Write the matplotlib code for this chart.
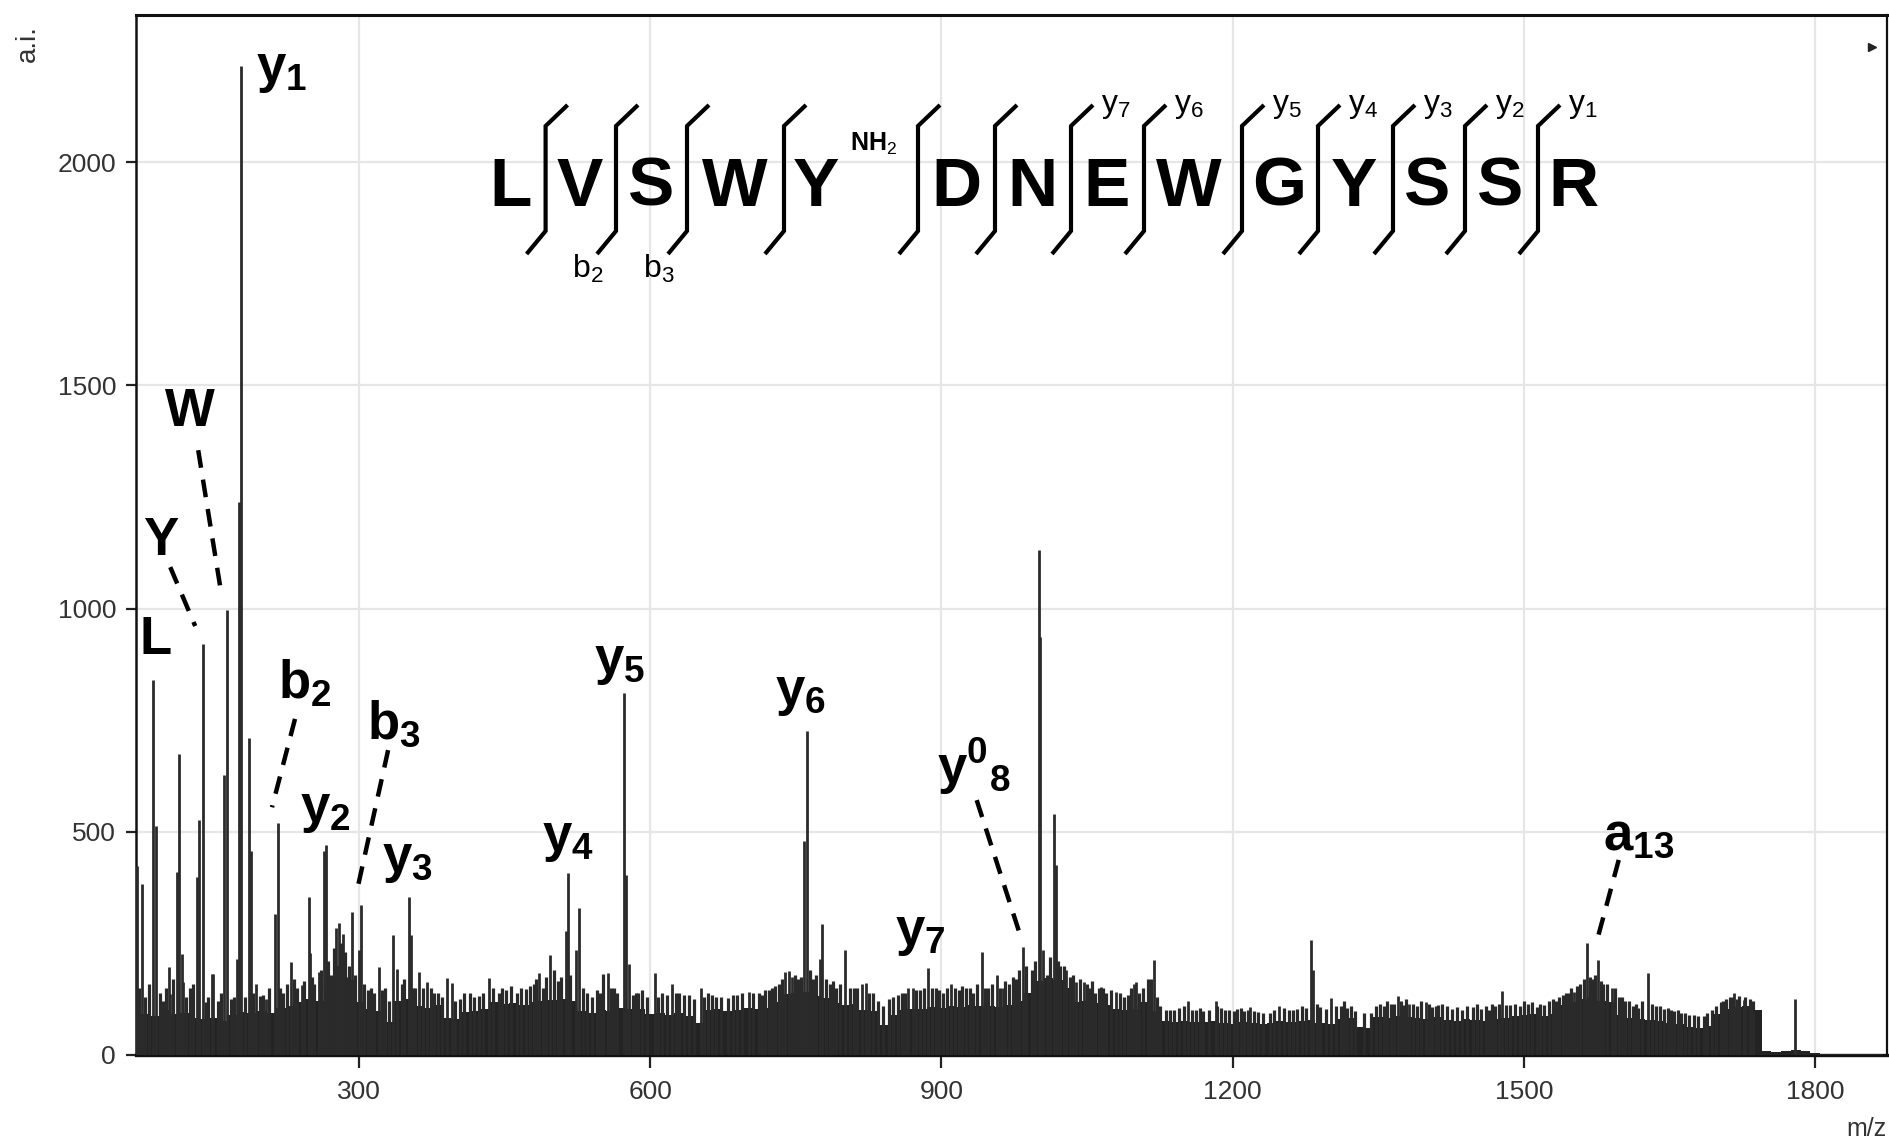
import matplotlib
matplotlib.use("Agg")
import matplotlib.pyplot as plt
from matplotlib import font_manager as fm

# ------------------------------------------------------------------ data
# noise floor of the spectrum, read every 10 m/z (upper edge of the solid band)
noise_mz = list(range(70, 1880, 10))
noise_int = [
    86, 92, 88, 101, 92, 95, 84, 80, 82, 76,
    90, 96, 93, 99, 95, 106, 110, 118, 125, 121,
    150, 200, 168, 118, 104, 98, 75, 122, 126, 110,
    106, 112, 84, 80, 96, 99, 104, 118, 114, 117,
    112, 118, 120, 124, 126, 120, 98, 95, 100, 98,
    106, 102, 104, 92, 95, 90, 94, 88, 72, 100,
    102, 98, 101, 105, 102, 106, 118, 136, 140, 142,
    132, 128, 116, 112, 114, 101, 98, 68, 90, 100,
    102, 104, 108, 106, 110, 107, 112, 109, 110, 108,
    112, 122, 140, 165, 172, 168, 150, 118, 122, 116,
    112, 104, 100, 102, 118, 98, 76, 74, 77, 75,
    73, 76, 72, 70, 74, 72, 70, 72, 76, 74,
    76, 78, 72, 70, 80, 82, 62, 60, 86, 84,
    88, 86, 84, 80, 86, 78, 76, 80, 78, 76,
    80, 82, 88, 90, 92, 88, 92, 112, 118, 126,
    130, 122, 118, 90, 84, 80, 78, 76, 72, 70,
    62, 60, 66, 92, 104, 108, 110, 100, 8, 7,
    8, 12, 9, 4, 3, 2, 2, 2, 2, 2,
    2,
]

# resolved peaks (m/z, intensity)
peak_mz = [72.0, 76.5, 88.5, 91.3, 104, 106, 112.6, 115.3, 117.7, 119,
           133.2, 134.9, 139.3, 148.6, 150, 161.3, 164.0, 174.4, 177.1, 178.8,
           187.4, 188.8, 194.3, 204, 213.8, 216.6, 230, 241, 248.2, 249.9,
           258.5, 264.3, 266.4, 276.7, 280, 284, 292.8, 300.7, 302.4, 320.3,
           335.7, 339, 351.5, 353.6, 362.5, 370, 390.6, 395.8, 433.9, 485.8,
           497.1, 512.9, 515.3, 523.9, 526.3, 556.8, 573.3, 575.7, 578.4, 604.9,
           623, 652, 702, 739, 743.3, 746, 758.7, 761.5, 775.2, 776.9,
           801, 818, 822.2, 866, 870.3, 886.3, 910, 941.6, 957.4, 963,
           983.8, 1000.3, 1002, 1005, 1015.6, 1018.4, 1028.3, 1039, 1047, 1064,
           1080, 1098, 1101, 1119.5, 1154.5, 1182.7, 1218, 1248, 1280.9, 1283,
           1301.5, 1370, 1382, 1399, 1477.6, 1551.3, 1565, 1575.9, 1591, 1628.3,
           1716.4, 1726.5, 1779.6]
peak_int = [423, 384, 840, 514, 197, 137, 411, 674, 226, 164,
            398, 527, 921, 182, 181, 628, 996, 216, 1238, 2215,
            710, 457, 160, 126, 315, 520, 209, 156, 354, 228,
            186, 458, 470, 285, 295, 270, 320, 236, 337, 197,
            268, 193, 354, 268, 187, 164, 172, 161, 173, 184,
            225, 277, 408, 236, 329, 184, 812, 404, 203, 184,
            160, 149, 142, 186, 189, 175, 480, 726, 214, 294,
            236, 160, 161, 149, 150, 195, 160, 230, 179, 149,
            242, 1131, 936, 236, 540, 425, 190, 164, 164, 153,
            142, 160, 163, 212, 120, 122, 108, 110, 258, 191,
            128, 132, 114, 118, 143, 142, 252, 212, 149, 183,
            138, 123, 126]

# small noise spikes above the floor (m/z, intensity)
spike_mz = [98, 122, 143, 168, 183, 198, 222, 236, 254, 271, 288, 309, 327, 344, 358,
            377, 404, 415, 424, 444, 452, 463, 472, 480, 490, 505, 535, 545, 552, 563,
            585, 592, 612, 630, 640, 660, 668, 680, 690, 712, 718, 726, 733, 752, 768,
            785, 792, 810, 830, 846, 855, 878, 895, 902, 918, 925, 933, 948, 970, 977,
            993, 1009, 1022, 1033, 1052, 1058, 1070, 1088, 1108, 1113, 1125, 1135, 1145,
            1162, 1170, 1188, 1196, 1205, 1212, 1226, 1238, 1258, 1266, 1290, 1296, 1312,
            1318, 1326, 1343, 1356, 1363, 1376, 1390, 1405, 1412, 1426, 1436, 1448, 1456,
            1464, 1470, 1486, 1496, 1504, 1513, 1521, 1533, 1540, 1546, 1558, 1570, 1582,
            1598, 1604, 1612, 1618, 1636, 1644, 1655, 1662, 1675, 1685, 1694, 1703, 1708,
            1712, 1722, 1733,
            74, 80, 84, 95, 101, 109, 126, 129, 145, 155, 158, 171, 191, 201, 208, 219,
            226, 233, 244, 252, 261, 268, 274, 282, 286, 290, 296, 305, 313, 316, 324,
            331, 347, 356, 366, 374, 382, 386, 399, 408, 419, 428, 438, 448, 457, 467,
            476, 483, 493, 501, 508, 518, 531, 540, 548, 560, 566, 582, 588, 597, 608,
            617, 627, 635, 645, 656, 664, 673, 685, 695, 706, 715, 722, 729, 736, 749,
            755, 765, 771, 781, 788, 796, 806, 813, 826, 835, 840, 850, 859, 863, 874,
            882, 890, 898, 906, 914, 921, 929, 937, 945, 952, 960, 966, 974, 980, 987,
            996, 1012, 1020, 1026, 1036, 1043, 1050, 1055, 1062, 1067, 1075, 1084, 1092,
            1095, 1104, 1116, 1122, 1131, 1140, 1150, 1158, 1166, 1176, 1184, 1192, 1201,
            1209, 1216, 1222, 1231, 1243, 1253, 1262, 1271, 1276, 1287, 1306, 1315, 1322,
            1335, 1348, 1352, 1359, 1366, 1373, 1379, 1386, 1394, 1402, 1409, 1416, 1421,
            1431, 1441, 1452, 1461, 1467, 1474, 1482, 1491, 1500, 1508, 1517, 1526, 1530,
            1536, 1543, 1549, 1555, 1562, 1568, 1573, 1579, 1586, 1594, 1601, 1608, 1615,
            1622, 1632, 1640, 1648, 1652, 1659, 1666, 1670, 1679, 1689, 1698, 1705, 1715,
            1719, 1728, 1736]
spike_int = [120, 130, 118, 125, 130, 132, 140, 150, 160, 180, 175, 145, 150, 160, 150,
             140, 125, 138, 132, 140, 145, 140, 148, 160, 150, 165, 140, 145, 181, 150,
             140, 145, 138, 140, 135, 138, 130, 128, 135, 140, 145, 150, 160, 170, 170,
             160, 150, 150, 140, 125, 135, 145, 150, 140, 145, 150, 140, 150, 160, 170,
             190, 180, 200, 175, 150, 140, 138, 130, 150, 170, 110, 100, 105,
             100, 98, 105, 100, 102, 98, 96, 95, 100, 104, 108, 104, 110,
             105, 98, 95, 110, 115, 112, 110, 108, 112, 104, 100, 108, 104,
             100, 110, 112, 110, 115, 108, 112, 120, 135, 140, 160, 170, 160,
             130, 120, 110, 105, 110, 104, 98, 95, 90, 88, 100, 118, 125,
             130, 132, 125,
             150, 130, 160, 140, 150, 170, 150, 160, 130, 120, 140, 130, 140, 135, 150, 150,
             160, 170, 165, 175, 190, 210, 240, 250, 230, 200, 180, 160, 150, 140, 145,
             120, 170, 150, 150, 150, 140, 130, 120, 140, 130, 140, 150, 150, 155, 150,
             155, 170, 175, 190, 175, 180, 150, 130, 140, 150, 140, 135, 140, 130, 130,
             135, 140, 135, 125, 130, 135, 130, 135, 140, 140, 135, 145, 155, 170, 180,
             175, 190, 180, 170, 165, 160, 150, 150, 140, 120, 110, 130, 140, 140, 145,
             150, 150, 145, 150, 150, 155, 150, 160, 150, 160, 150, 165, 175, 190, 200,
             210, 220, 210, 200, 180, 170, 160, 165, 150, 150, 145, 140, 135,
             150, 140, 170, 130, 100, 100, 110, 100, 105, 100, 110, 100, 98,
             105, 100, 98, 95, 100, 105, 100, 110, 105, 115, 110, 120, 110,
             95, 110, 115, 120, 115, 120, 125, 115, 120, 115, 110, 115, 110,
             108, 110, 115, 110, 115, 115, 112, 115, 120, 118, 115, 120, 125,
             130, 140, 150, 155, 170, 175, 180, 165, 160, 150, 130, 120, 115,
             120, 115, 110, 105, 100, 100, 95, 90, 88, 95, 110, 120, 130,
             125, 130, 120]

x_ticks = [300, 600, 900, 1200, 1500, 1800]
y_ticks = [0, 500, 1000, 1500, 2000]

# peak annotations: label, (m/z, intensity) of label centre
peak_labels = [
    (r"$\mathbf{y_1}$", 221, 2206),
    (r"$\mathbf{W}$", 126.3, 1440),
    (r"$\mathbf{Y}$", 96.4, 1151),
    (r"$\mathbf{L}$", 90.2, 930),
    (r"$\mathbf{b_2}$", 244, 832),
    (r"$\mathbf{y_2}$", 265.5, 549),
    (r"$\mathbf{b_3}$", 336.6, 741),
    (r"$\mathbf{y_3}$", 350, 437),
    (r"$\mathbf{y_4}$", 515, 485),
    (r"$\mathbf{y_5}$", 569, 881),
    (r"$\mathbf{y_6}$", 755, 810),
    (r"$\mathbf{y_7}$", 878.5, 273),
    (r"$\mathbf{y}^{\mathbf{0}}{}_{\mathbf{8}}$", 933, 646),
    (r"$\mathbf{a_{13}}$", 1618.6, 492),
]
# dashed leader lines: (m/z0, int0, m/z1, int1)
leaders = [
    (134.6, 1355, 158.3, 1035),
    (105.8, 1093, 131.5, 961),
    (234.3, 753, 210.6, 555),
    (330.2, 683, 298.3, 370),
    (936.4, 571, 981, 270),
    (1597.7, 437, 1574, 246),
]

sequence = list("LVSWYDNEWGYSSR")
b_ions = {1: "2", 2: "3"}                       # bracket index -> b-ion number
y_ions = {6: "7", 7: "6", 8: "5", 9: "4", 10: "3", 11: "2", 12: "1"}

# ------------------------------------------------------------------ layout
W_PX, H_PX = 1890, 1147
AX_L, AX_R, AX_T, AX_B = 135.5, 1887, 15, 1055
letter_x = [511, 580, 651, 735, 816, 956, 1032, 1107, 1189, 1279, 1354, 1427, 1500, 1573]
bracket_x = [545.6, 616, 687, 784, 918, 995, 1071, 1144, 1242, 1318, 1393, 1465, 1538]


def px(x, y):
    return ((x - AX_L) / (AX_R - AX_L), (AX_B - y) / (AX_B - AX_T))


names = {f.name for f in fm.fontManager.ttflist}
NARROW = "Liberation Sans Narrow" if "Liberation Sans Narrow" in names else "Liberation Sans"
plt.rcParams["font.family"] = ["Liberation Sans", "DejaVu Sans"]
plt.rcParams["mathtext.fontset"] = "custom"
plt.rcParams["mathtext.rm"] = NARROW
plt.rcParams["mathtext.it"] = NARROW + ":italic"
plt.rcParams["mathtext.bf"] = "Liberation Sans:bold"

fig = plt.figure(figsize=(W_PX / 100, H_PX / 100), dpi=100)
ax = fig.add_axes([AX_L / W_PX, 1 - AX_B / H_PX, (AX_R - AX_L) / W_PX, (AX_B - AX_T) / H_PX])

DARK = "#232323"
ax.fill_between(noise_mz, noise_int, step="mid", color=DARK, lw=0, zorder=3)
ax.vlines(spike_mz, 0, spike_int, color="#2a2a2a", lw=2.3, zorder=3)
ax.vlines(peak_mz, 0, peak_int, color="#2b2b2b", lw=2.0, zorder=4)

ax.set_xlim(70, 1874)
ax.set_ylim(0, 2330)
ax.set_xticks(x_ticks)
ax.set_yticks(y_ticks)
ax.grid(True, color="#e6e6e6", lw=1.6, zorder=0)
ax.set_axisbelow(True)
ax.tick_params(axis="x", direction="out", length=9, width=1.6, pad=9,
               labelsize=19, labelcolor="#333333", color="#222222")
ax.tick_params(axis="y", direction="out", length=7, width=1.6, pad=7,
               labelsize=19, labelcolor="#333333", color="#222222")
for side, lw in (("left", 1.8), ("bottom", 2.4), ("top", 2.2), ("right", 1.6)):
    ax.spines[side].set_linewidth(lw)
    ax.spines[side].set_color("#111111")

# peak labels and leaders
for text, mz, inten in peak_labels:
    ax.text(mz, inten, text, fontsize=38, ha="center", va="center", color="black", zorder=6)
for m0, i0, m1, i1 in leaders:
    ax.plot([m0, m1], [i0, i1], color="black", lw=3.2, ls=(0, (4, 2.7)),
            solid_capstyle="butt", dash_capstyle="butt", zorder=6)

# sequence header
T = ax.transAxes
for ch, x in zip(sequence, letter_x):
    ax.text(*px(x, 206), ch, transform=T, fontsize=50, fontweight="bold",
            ha="center", va="baseline", color="black", zorder=6)
ax.text(*px(874, 151), r"NH$_2$", transform=T, fontsize=18, fontweight="bold",
        ha="center", va="baseline", color="black", zorder=6)
for i, x in enumerate(bracket_x):
    pts = [px(x - 19, 254), px(x, 231), px(x, 126), px(x + 22, 105)]
    ax.plot([p[0] for p in pts], [p[1] for p in pts], transform=T, color="black",
            lw=3.0, solid_joinstyle="miter", solid_capstyle="butt", zorder=6)
    if i in b_ions:
        ax.text(*px(x - 28, 269), r"$\mathrm{b}_{%s}$" % b_ions[i], transform=T,
                fontsize=23, ha="center", va="center", color="black", zorder=6)
    if i in y_ions:
        ax.text(*px(x + 45, 106), r"$\mathrm{y}_{%s}$" % y_ions[i], transform=T,
                fontsize=23, ha="center", va="center", color="black", zorder=6)

# small marker at top right
ax.plot([px(1872, 47)[0]], [px(1872, 47)[1]], marker=">", ms=6, color="#222222",
        transform=T, clip_on=False, zorder=6)

fig.text(28 / W_PX, 1 - 44 / H_PX, "a.i.", rotation=90, fontsize=20, family=NARROW,
         ha="center", va="center", color="#333333")
fig.text(1866 / W_PX, 1 - 1129 / H_PX, "m/z", fontsize=18, family=NARROW,
         ha="center", va="center", color="#333333")

fig.savefig("out.png", dpi=100)
